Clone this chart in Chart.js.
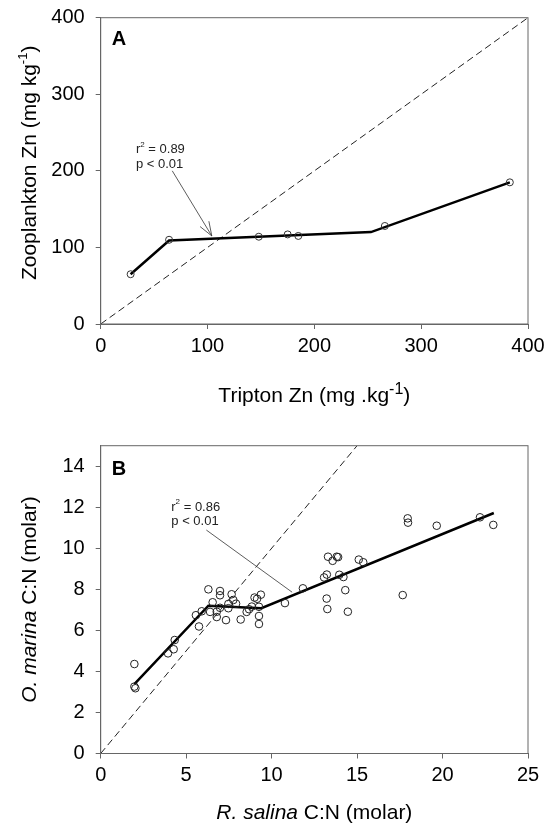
<!DOCTYPE html>
<html>
<head>
<meta charset="utf-8">
<script src="https://cdn.jsdelivr.net/npm/chart.js@4.4.0/dist/chart.umd.min.js"></script>
<style>
html, body { margin: 0; padding: 0; background: #fff; }
#wrap { position: relative; width: 549px; height: 828px; }
.panel { position: absolute; left: 0; width: 549px; height: 414px; }
</style>
</head>
<body>
<div id="wrap">
  <div class="panel" style="top:0"><canvas id="chartA" width="549" height="414"></canvas></div>
  <div class="panel" style="top:414px"><canvas id="chartB" width="549" height="414"></canvas></div>
</div>
<script>
// Panel A : Zn
const triptonZn = [28, 64, 148, 175, 185, 266, 383];
const zooplanktonZn = [65, 110, 114, 117, 115, 128, 185];
const fitA_x = [28, 64, 253, 383];
const fitA_y = [65, 109, 120, 185];
const identityA = [0, 400];

// Panel B : C:N
const salinaCN = [1.97, 1.97, 2.03, 3.94, 4.27, 4.33, 5.57, 5.75, 5.91, 6.3,
  6.4, 6.55, 6.79, 6.79, 6.98, 6.98, 6.98, 7.33, 7.47, 7.47,
  7.66, 7.76, 7.92, 8.19, 8.54, 8.68, 8.84, 9.0, 9.15, 9.26,
  9.26, 9.26, 9.37, 10.78, 11.83, 13.07, 13.23, 13.22, 13.26, 13.3,
  13.57, 13.81, 13.89, 13.96, 14.2, 14.31, 14.46, 15.1, 15.36, 17.67,
  17.96, 17.98, 19.66, 22.19, 22.97];
const marinaCN = [4.36, 3.26, 3.18, 4.88, 5.08, 5.53, 6.74, 6.19, 6.93, 8.0,
  6.9, 7.37, 6.91, 6.65, 7.92, 7.71, 7.1, 6.5, 7.08, 7.29,
  7.76, 7.48, 7.3, 6.53, 6.9, 7.03, 7.16, 7.6, 7.54, 7.15,
  6.7, 6.31, 7.74, 7.33, 8.05, 8.58, 8.72, 7.55, 7.04, 9.59,
  9.39, 9.59, 9.57, 8.71, 8.6, 7.96, 6.91, 9.45, 9.32, 7.72,
  11.46, 11.25, 11.1, 11.51, 11.14];
const fitB_x = [1.97, 6.3, 9.4, 23.0];
const fitB_y = [3.38, 7.2, 7.08, 11.72];
const identityB = [0, 15];

const FONT = '"Liberation Sans", Arial, sans-serif';
Chart.defaults.font.family = FONT;
Chart.defaults.color = '#000';

function pts(xs, ys) {
    return xs.map((x, i) => ({ x: x, y: ys[i] }));
}

function makeScales(xMin, xMax, xStep, yMin, yMax, yStep, xHeight) {
    const grid = () => ({ display: true, drawOnChartArea: false, drawTicks: true, tickLength: 5, color: '#666', lineWidth: 1 });
    const border = () => ({ display: true, color: '#666', width: 1 });
    return {
        x: {
            type: 'linear', position: 'bottom', min: xMin, max: xMax,
            grid: grid(), border: border(),
            ticks: { stepSize: xStep, includeBounds: false, font: { size: 20 }, color: '#000', padding: 5, maxRotation: 0, autoSkip: false },
            afterFit: s => { s.height = xHeight; s.paddingLeft = 0; s.paddingRight = 0; }
        },
        y: {
            type: 'linear', position: 'left', min: yMin, max: yMax,
            grid: grid(), border: border(),
            ticks: { stepSize: yStep, includeBounds: false, font: { size: 20 }, color: '#000', padding: 11, autoSkip: false },
            afterFit: s => { s.width = 100.7; s.paddingTop = 0; s.paddingBottom = 0; }
        }
    };
}

// texte en plusieurs morceaux (exposants, italique)
function drawRuns(ctx, runs, x, y, align) {
    let total = 0;
    runs.forEach(r => {
        ctx.font = (r.style || '') + ' ' + r.size + 'px ' + FONT;
        r.w = ctx.measureText(r.t).width;
        total += r.w;
    });
    let cx = align === 'center' ? x - total / 2 : x;
    runs.forEach(r => {
        ctx.font = (r.style || '') + ' ' + r.size + 'px ' + FONT;
        ctx.fillText(r.t, cx, y - (r.rise || 0));
        cx += r.w;
    });
}

function decor(draw) {
    return {
        id: 'decor',
        afterDraw(chart) {
            const { ctx, chartArea: a, scales } = chart;
            ctx.save();
            ctx.strokeStyle = '#666';
            ctx.lineWidth = 1;
            ctx.strokeRect(a.left, a.top, a.right - a.left, a.bottom - a.top);
            ctx.fillStyle = '#000';
            ctx.textAlign = 'left';
            ctx.textBaseline = 'alphabetic';
            draw(ctx, scales.x, scales.y, a);
            ctx.restore();
        }
    };
}

function baseOptions(scales, top) {
    return {
        responsive: false,
        animation: false,
        layout: { padding: { left: 0, top: top, right: 21, bottom: 0 } },
        plugins: { legend: { display: false }, tooltip: { enabled: false } },
        scales: scales
    };
}

// Panel A
new Chart(document.getElementById('chartA'), {
    type: 'scatter',
    data: {
        datasets: [
            { data: pts(triptonZn, zooplanktonZn), order: 0, pointRadius: 3.5, pointBorderWidth: 1,
              borderColor: '#333', backgroundColor: 'rgba(255,255,255,0)' },
            { data: pts(fitA_x, fitA_y), order: 1, showLine: true, pointRadius: 0, borderColor: '#000', borderWidth: 2.5 },
            { data: pts(identityA, identityA), order: 2, showLine: true, pointRadius: 0, borderColor: '#222', borderWidth: 1, borderDash: [7, 4] }
        ]
    },
    options: baseOptions(makeScales(0, 400, 100, 0, 400, 100, 90), 17.7),
    plugins: [decor((ctx, x, y, a) => {
        ctx.font = 'bold 20px ' + FONT;
        ctx.fillText('A', a.left + 11, a.top + 27);

        // r2 annotation + flèche
        ctx.fillStyle = '#222';
        ctx.textBaseline = 'middle';
        drawRuns(ctx, [{ t: 'r', size: 13 }, { t: '2', size: 8, rise: 5 }, { t: ' = 0.89', size: 13 }], x.getPixelForValue(33), y.getPixelForValue(228), 'left');
        drawRuns(ctx, [{ t: 'p < 0.01', size: 13 }], x.getPixelForValue(33), y.getPixelForValue(209), 'left');
        const x0 = x.getPixelForValue(67), y0 = y.getPixelForValue(200);
        const x1 = x.getPixelForValue(104), y1 = y.getPixelForValue(115);
        const ang = Math.atan2(y1 - y0, x1 - x0);
        ctx.strokeStyle = '#333';
        ctx.lineWidth = 0.8;
        ctx.beginPath();
        ctx.moveTo(x0, y0); ctx.lineTo(x1, y1);
        [0.35, -0.35].forEach(d => {
            ctx.moveTo(x1, y1);
            ctx.lineTo(x1 - 15 * Math.cos(ang + d), y1 - 15 * Math.sin(ang + d));
        });
        ctx.stroke();

        // titres des axes
        ctx.fillStyle = '#000';
        ctx.textBaseline = 'alphabetic';
        drawRuns(ctx, [{ t: 'Tripton Zn (mg .kg', size: 21 }, { t: '-1', size: 16, rise: 8 }, { t: ')', size: 21 }], (a.left + a.right) / 2, 402, 'center');
        ctx.save();
        ctx.translate(36, (a.top + a.bottom) / 2 - 8);
        ctx.rotate(-Math.PI / 2);
        drawRuns(ctx, [{ t: 'Zooplankton Zn (mg kg', size: 21 }, { t: '-1', size: 13, rise: 9 }, { t: ')', size: 21 }], 0, 0, 'center');
        ctx.restore();
    })]
});

// Panel B
new Chart(document.getElementById('chartB'), {
    type: 'scatter',
    data: {
        datasets: [
            { data: pts(salinaCN, marinaCN), order: 0, pointRadius: 3.8, pointBorderWidth: 1,
              borderColor: '#222', backgroundColor: 'rgba(255,255,255,0)' },
            { data: pts(fitB_x, fitB_y), order: 1, showLine: true, pointRadius: 0, borderColor: '#000', borderWidth: 2.5 },
            { data: pts(identityB, identityB), order: 2, showLine: true, pointRadius: 0, borderColor: '#222', borderWidth: 1, borderDash: [7, 4] }
        ]
    },
    options: baseOptions(makeScales(0, 25, 5, 0, 15, 2, 74.5), 31.7),
    plugins: [decor((ctx, x, y, a) => {
        ctx.font = 'bold 20px ' + FONT;
        ctx.fillText('B', a.left + 11, a.top + 29);

        ctx.fillStyle = '#222';
        ctx.textBaseline = 'middle';
        drawRuns(ctx, [{ t: 'r', size: 13 }, { t: '2', size: 8, rise: 5 }, { t: ' = 0.86', size: 13 }], x.getPixelForValue(4.13), y.getPixelForValue(12.0), 'left');
        drawRuns(ctx, [{ t: 'p < 0.01', size: 13 }], x.getPixelForValue(4.13), y.getPixelForValue(11.3), 'left');
        ctx.strokeStyle = '#333';
        ctx.lineWidth = 0.8;
        ctx.beginPath();
        ctx.moveTo(x.getPixelForValue(6.18), y.getPixelForValue(10.89));
        ctx.lineTo(x.getPixelForValue(11.2), y.getPixelForValue(7.86));
        ctx.stroke();

        ctx.fillStyle = '#000';
        ctx.textBaseline = 'alphabetic';
        drawRuns(ctx, [{ t: 'R. salina', size: 21, style: 'italic' }, { t: ' C:N (molar)', size: 21 }], (a.left + a.right) / 2, 405, 'center');
        ctx.save();
        ctx.translate(36, (a.top + a.bottom) / 2);
        ctx.rotate(-Math.PI / 2);
        drawRuns(ctx, [{ t: 'O. marina', size: 21, style: 'italic' }, { t: ' C:N (molar)', size: 21 }], 0, 0, 'center');
        ctx.restore();
    })]
});
</script>
</body>
</html>
